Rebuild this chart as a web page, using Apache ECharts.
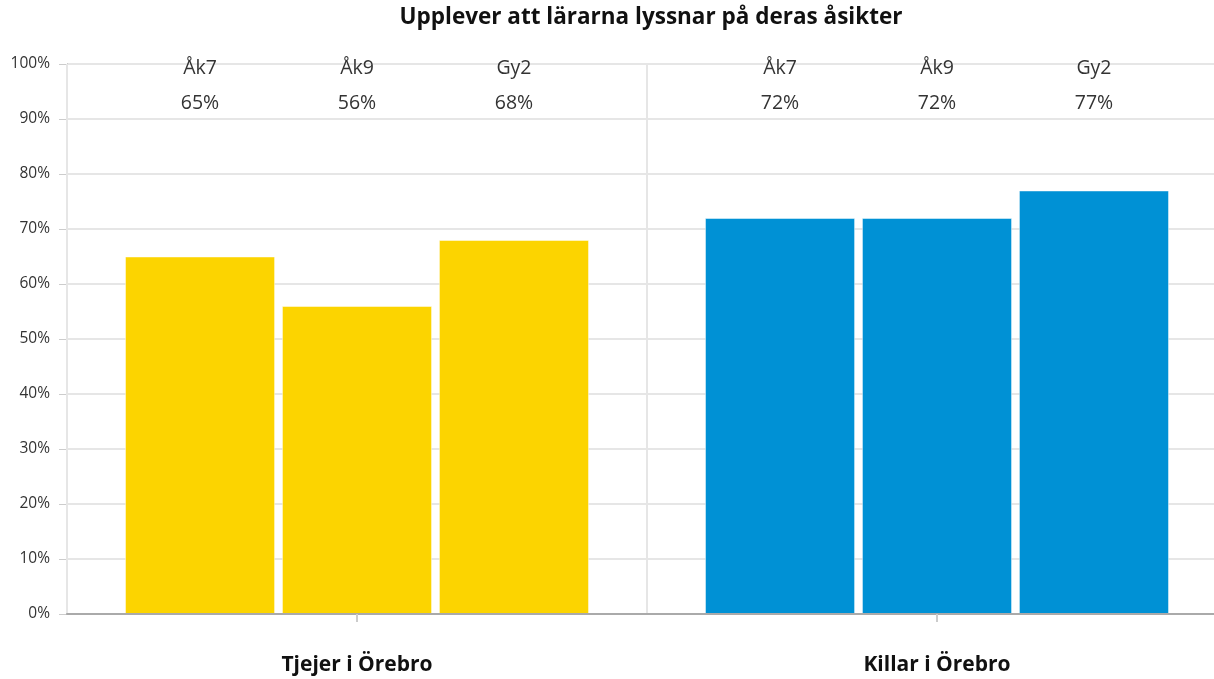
<!DOCTYPE html>
<html>
<head>
<meta charset="utf-8">
<script src="https://cdn.jsdelivr.net/npm/echarts@6/dist/echarts.min.js"></script>
<style>
  html, body { margin: 0; padding: 0; background: #fff; }
  #chart { width: 1214px; height: 679px; }
</style>
</head>
<body>
<div id="chart"></div>
<script>
// categories on the x axis
const groups = ['Tjejer i Örebro', 'Killar i Örebro'];
// one series per school year
const years = ['Åk7', 'Åk9', 'Gy2'];
// values in percent, [tjejer, killar] per year
const ak7 = [65, 72];
const ak9 = [56, 72];
const gy2 = [68, 77];
const groupColors = ['#fcd400', '#0091d5'];

const seriesValues = [ak7, ak9, gy2];

const chart = echarts.init(document.getElementById('chart'));

const font = '"Open Sans", "Noto Sans", sans-serif';

// real bars
const barSeries = years.map((name, i) => ({
  name: name,
  type: 'bar',
  xAxisIndex: 0,
  barGap: '4.6%',
  barCategoryGap: '20%',
  data: seriesValues[i].map((v, g) => ({
    value: v,
    itemStyle: { color: groupColors[g] }
  })),
  itemStyle: { borderColor: 'rgba(255,255,255,0.45)', borderWidth: 1 },
  silent: true,
  z: 2
}));

// invisible full-height bars only used to hold the labels at the top
const labelSeries = years.map((name, i) => ({
  name: name + '-label',
  type: 'bar',
  xAxisIndex: 1,
  barGap: '4.6%',
  barCategoryGap: '20%',
  data: seriesValues[i].map(() => 100),
  itemStyle: { color: 'transparent' },
  silent: true,
  label: {
    show: true,
    position: 'insideTop',
    offset: [0, -18],
    formatter: (p) => name + '\n' + seriesValues[i][p.dataIndex] + '%',
    color: '#333',
    fontFamily: font,
    fontSize: 19.5,
    lineHeight: 35
  },
  z: 3
}));

chart.setOption({
  animation: false,
  title: {
    text: 'Upplever att lärarna lyssnar på deras åsikter',
    left: 646,
    top: 1,
    textAlign: 'center',
    textStyle: {
      fontFamily: font,
      fontSize: 22.5,
      fontWeight: 'bold',
      color: '#111'
    }
  },
  grid: {
    left: 67,
    right: -13,
    top: 64,
    bottom: 65,
    outerBoundsMode: 'none',
    containLabel: false
  },
  xAxis: [
    {
      type: 'category',
      data: groups,
      axisLine: { show: true, lineStyle: { color: '#aaa', width: 2 } },
      axisTick: { show: true, alignWithLabel: true, length: 8, lineStyle: { color: '#ccc', width: 2 } },
      axisLabel: {
        margin: 41,
        fontFamily: font,
        fontSize: 21,
        fontWeight: 'bold',
        color: '#111'
      },
      splitLine: { show: true, lineStyle: { color: '#e6e6e6', width: 2 } },
      z: 5
    },
    {
      type: 'category',
      data: groups,
      show: false
    }
  ],
  yAxis: {
    type: 'value',
    min: 0,
    max: 100,
    interval: 10,
    axisLine: { show: true, lineStyle: { color: '#aaa', width: 1 } },
    axisTick: { show: true, length: 8, lineStyle: { color: '#ccc' } },
    axisLabel: {
      formatter: '{value}%',
      margin: 17,
      fontFamily: font,
      fontSize: 15.5,
      color: '#333'
    },
    splitLine: { show: true, lineStyle: { color: '#e6e6e6', width: 2 } }
  },
  series: barSeries.concat(labelSeries)
});
</script>
</body>
</html>
